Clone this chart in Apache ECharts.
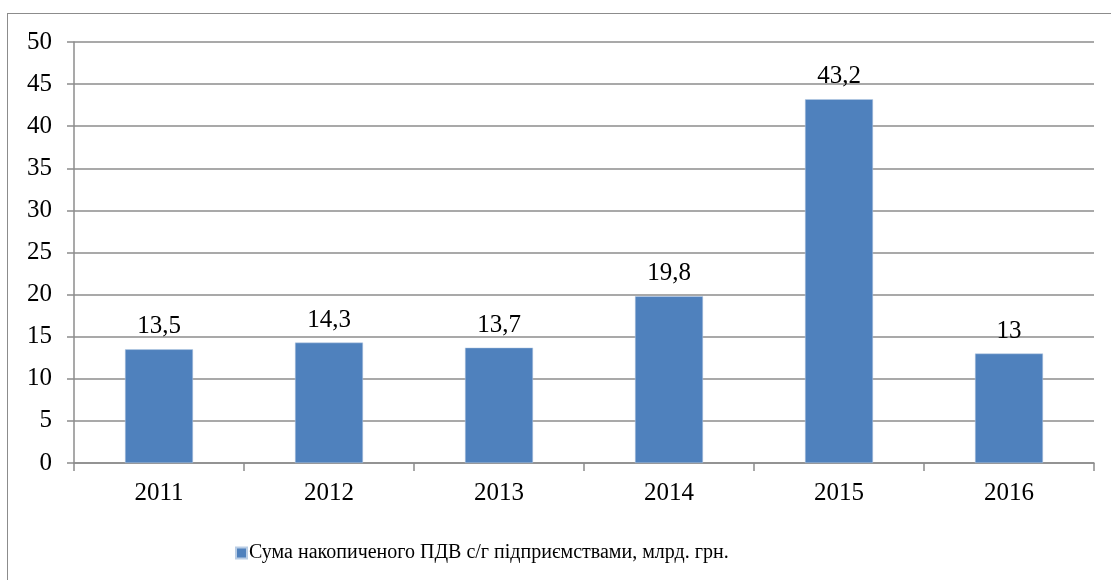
<!DOCTYPE html>
<html><head><meta charset="utf-8">
<script src="https://cdn.jsdelivr.net/npm/echarts@6/dist/echarts.min.js"></script>
<style>html,body{margin:0;padding:0;background:#fff;overflow:hidden}#c{width:1111px;height:580px}
#frame{position:absolute;left:7px;top:13px;width:1200px;height:700px;border:1.5px solid #8c8c8c;pointer-events:none}</style>
</head><body><div id="c"></div><div id="frame"></div>
<script>
const categories = ['2011','2012','2013','2014','2015','2016'];
const values = [13.5, 14.3, 13.7, 19.8, 43.2, 13];
const labels = ['13,5','14,3','13,7','19,8','43,2','13'];
const seriesName = 'Сума накопиченого ПДВ с/г підприємствами, млрд. грн.';
const font = 'Times New Roman, Liberation Serif, DejaVu Serif, serif';
const chart = echarts.init(document.getElementById('c'));
chart.setOption({
  animation:false,
  textStyle:{fontFamily:font},
  grid:{left:74,right:17,top:42,bottom:117,containLabel:false},
  legend:{top:538,left:230,itemWidth:11,itemHeight:11,itemGap:4,icon:'rect',
    textStyle:{fontFamily:font,fontSize:20,color:'#000',padding:[0,0,0,-3]},data:[seriesName]},
  xAxis:{type:'category',data:categories,
    axisLine:{lineStyle:{color:'#8c8c8c',width:1.5}},
    axisTick:{show:true,length:8,lineStyle:{color:'#8c8c8c',width:1.5}},
    axisLabel:{fontFamily:font,fontSize:25,color:'#000',margin:18}},
  yAxis:{type:'value',min:0,max:50,interval:5,
    axisLine:{show:true,lineStyle:{color:'#8c8c8c',width:1.5}},
    axisTick:{show:true,length:7,lineStyle:{color:'#8c8c8c',width:1.5}},
    splitLine:{lineStyle:{color:'#8c8c8c',width:1.5}},
    axisLabel:{fontFamily:font,fontSize:25,color:'#000',margin:22}},
  series:[{name:seriesName,type:'bar',data:values,barWidth:'40%',
    itemStyle:{color:'#4f81bd',borderColor:'#b9cde5',borderWidth:0.5},
    label:{show:true,position:'top',distance:10,fontFamily:font,fontSize:25,color:'#000',
      formatter:p=>labels[p.dataIndex]}}]
});
</script></body></html>
